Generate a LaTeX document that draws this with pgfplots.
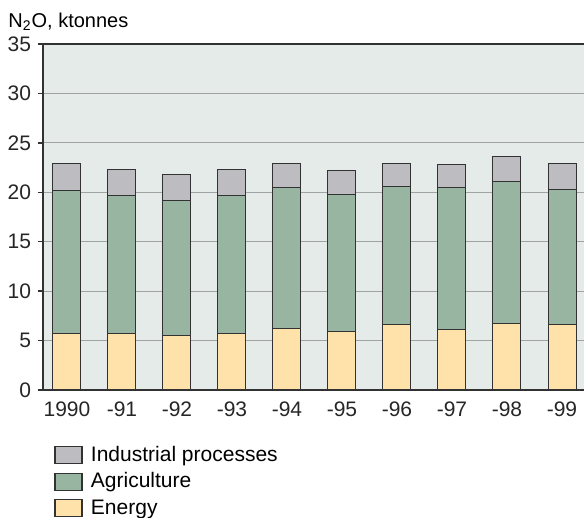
\documentclass[border=0pt]{standalone}
\usepackage{fontspec}
\setmainfont{Liberation Sans}
\usepackage{pgfplots}
\usepackage{pgfplotstable}
\pgfplotsset{compat=1.18}

\definecolor{bgc}{RGB}{229,235,232}
\definecolor{indc}{RGB}{188,188,193}
\definecolor{agrc}{RGB}{151,181,160}
\definecolor{enec}{RGB}{255,226,170}
\definecolor{edgec}{RGB}{50,50,50}
\definecolor{gridc}{RGB}{160,163,162}

% N2O emissions, ktonnes
\pgfplotstableread{
x energy agri ind
0 5.70 14.48 2.78
1 5.67 14.01 2.58
2 5.50 13.62 2.68
3 5.67 14.01 2.62
4 6.20 14.30 2.40
5 5.92 13.82 2.46
6 6.60 13.95 2.33
7 6.12 14.33 2.35
8 6.72 14.34 2.56
9 6.62 13.66 2.62
}\emissions

\pgfplotsset{
  boxlegend/.style={legend image code/.code={
    \draw[##1,draw=edgec,line width=0.6pt] (0pt,-4.25pt) rectangle (13.5pt,4.25pt);
    \path[draw=none,fill=none] (0pt,0pt) -- (16pt,0pt);}},
}

\begin{document}
\begin{tikzpicture}
\useasboundingbox (-21.5pt,-64pt) rectangle (270.5pt,195pt);
\begin{axis}[
  at={(0,0)}, anchor=south west,
  scale only axis, width=270.5pt, height=173pt,
  ybar stacked, bar width=14pt,
  xmin=-0.436, xmax=9.4, ymin=0, ymax=35,
  xtick={0,...,9},
  xticklabels={1990,-91,-92,-93,-94,-95,-96,-97,-98,-99},
  ytick={0,5,...,35},
  xtick style={draw=none},
  ytick style={draw=edgec,line width=0.7pt},
  tick align=outside, major tick length=2.5pt,
  ymajorgrids, grid style={draw=gridc,line width=0.6pt},
  axis line style={draw=none},
  axis background/.style={fill=bgc},
  tick label style={font=\fontsize{10.5}{12.5}\selectfont, text=black!85},
  /pgf/number format/assume math mode=true,
  ylabel={N\textsubscript{2}O, ktonnes},
  ylabel style={rotate=-90, at={(axis description cs:-0.0647,1.049)},
    anchor=base west, inner sep=0pt, font=\fontsize{10}{12}\selectfont},
  reverse legend,
  legend cell align=left,
  legend style={at={(axis description cs:0.0203,-0.149)}, anchor=north west,
    draw=none, fill=none, inner sep=0pt, row sep=0.3pt,
    font=\fontsize{10.5}{12.5}\selectfont},
  after end axis/.code={
    \draw[edgec,line width=0.8pt] (rel axis cs:1,1) -- (rel axis cs:0,1)
      -- (rel axis cs:0,0) -- (rel axis cs:1,0);
  },
]
\addplot[fill=enec, draw=edgec, line width=0.5pt, boxlegend] table[x=x,y=energy] {\emissions};
\addplot[fill=agrc, draw=edgec, line width=0.5pt, boxlegend] table[x=x,y=agri] {\emissions};
\addplot[fill=indc, draw=edgec, line width=0.5pt, boxlegend] table[x=x,y=ind] {\emissions};
\legend{Energy, Agriculture, Industrial processes}
\end{axis}
\end{tikzpicture}
\end{document}
